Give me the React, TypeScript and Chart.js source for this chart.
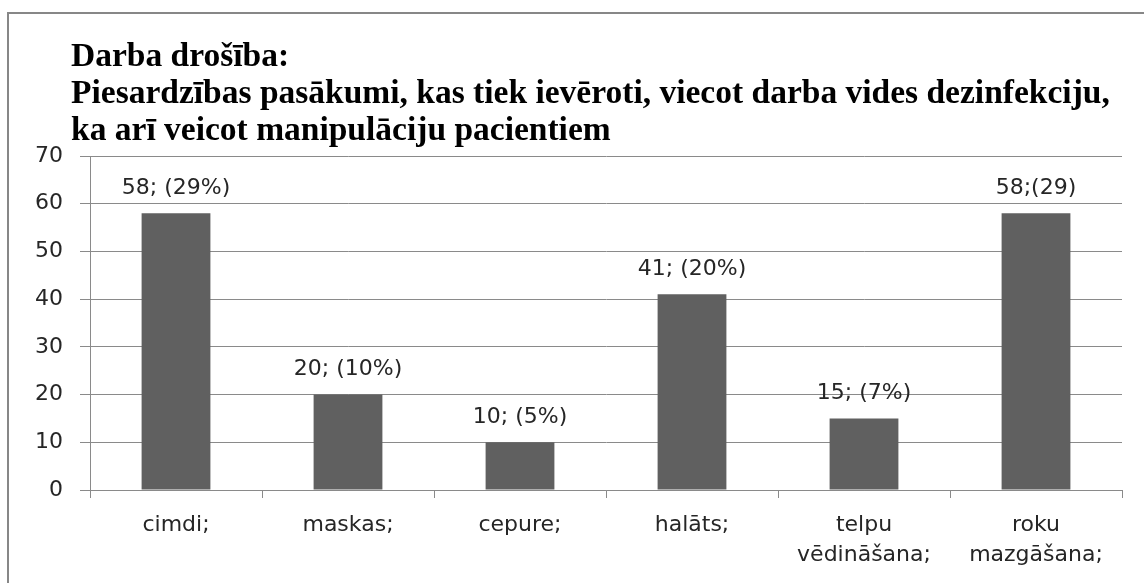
import React, { useEffect, useRef } from "react";
import { Chart, registerables } from "chart.js";

Chart.register(...registerables);

const titleLines = [
  "Darba drošība:",
  "Piesardzības pasākumi, kas tiek ievēroti, viecot darba vides dezinfekciju,",
  "ka arī veicot manipulāciju pacientiem",
];
const categories: (string | string[])[] = [
  "cimdi;",
  "maskas;",
  "cepure;",
  "halāts;",
  ["telpu", "vēdināšana;"],
  ["roku", "mazgāšana;"],
];
const counts = [58, 20, 10, 41, 15, 58];
const valueLabels = ["58; (29%)", "20; (10%)", "10; (5%)", "41; (20%)", "15; (7%)", "58;(29)"];
const yMin = 0;
const yMax = 70;
const yStep = 10;

const W = 1144;
const H = 583;
const LABEL_FONT = "'DejaVu Sans', sans-serif";

const titlePlugin = {
  id: "fixedTitle",
  afterDraw(chart: any) {
    const ctx = chart.ctx;
    ctx.save();
    ctx.font = "bold 33.5px 'Liberation Serif', 'Times New Roman', serif";
    ctx.fillStyle = "#000";
    ctx.textAlign = "left";
    ctx.textBaseline = "alphabetic";
    titleLines.forEach((line, i) => {
      ctx.fillText(line, 71, 66 + i * 37);
    });
    ctx.restore();
  },
};

const dataLabelPlugin = {
  id: "dataLabels",
  afterDatasetsDraw(chart: any) {
    const ctx = chart.ctx;
    const meta = chart.getDatasetMeta(0);
    ctx.save();
    ctx.font = "22px " + LABEL_FONT;
    ctx.fillStyle = "#262626";
    ctx.textAlign = "center";
    ctx.textBaseline = "middle";
    meta.data.forEach((el: any, i: number) => {
      ctx.fillText(valueLabels[i], el.x, el.y - 25);
    });
    ctx.restore();
  },
};

export default function App() {
  const ref = useRef<HTMLCanvasElement>(null);
  useEffect(() => {
    const c = ref.current!;
    const chart = new Chart(c, {
      type: "bar",
      data: {
        labels: categories,
        datasets: [
          {
            data: counts,
            backgroundColor: "#606060",
            borderWidth: 0,
            barPercentage: 0.4,
            categoryPercentage: 1,
          },
        ],
      },
      options: {
        responsive: false,
        animation: false,
        devicePixelRatio: 1,
        layout: { padding: { left: 0, right: 22, top: 156, bottom: 0 } },
        plugins: {
          legend: { display: false },
          tooltip: { enabled: false },
          title: { display: false },
        },
        scales: {
          x: {
            grid: {
              drawOnChartArea: false,
              drawTicks: true,
              offset: true,
              tickLength: 8,
              color: "#8a8a8a",
              lineWidth: 1,
            },
            border: { color: "#8a8a8a", width: 1 },
            ticks: {
              color: "#262626",
              font: { family: LABEL_FONT, size: 22, lineHeight: 1.36 },
              padding: 12,
              maxRotation: 0,
              autoSkip: false,
            },
            afterFit: (s: any) => {
              s.height = H - 490;
            },
          },
          y: {
            min: yMin,
            max: yMax,
            ticks: {
              stepSize: yStep,
              color: "#262626",
              font: { family: LABEL_FONT, size: 22 },
              padding: 17,
            },
            grid: { color: "#8a8a8a", lineWidth: 1, tickLength: 10 },
            border: { color: "#8a8a8a", width: 1 },
            afterFit: (s: any) => {
              s.width = 90;
            },
          },
        },
      },
      plugins: [dataLabelPlugin, titlePlugin],
    });
    return () => chart.destroy();
  }, []);
  return (
    <div style={{ position: "fixed", left: 0, top: 0, width: W, height: H, background: "#fff", overflow: "hidden" }}>
      <div
        style={{
          position: "absolute",
          left: 7,
          top: 12,
          width: W + 20,
          height: H + 20,
          borderTop: "2px solid #878787",
          borderLeft: "2px solid #878787",
          boxSizing: "border-box",
        }}
      />
      <canvas ref={ref} width={W} height={H} style={{ position: "absolute", left: 0, top: 0, width: W, height: H }} />
    </div>
  );
}
